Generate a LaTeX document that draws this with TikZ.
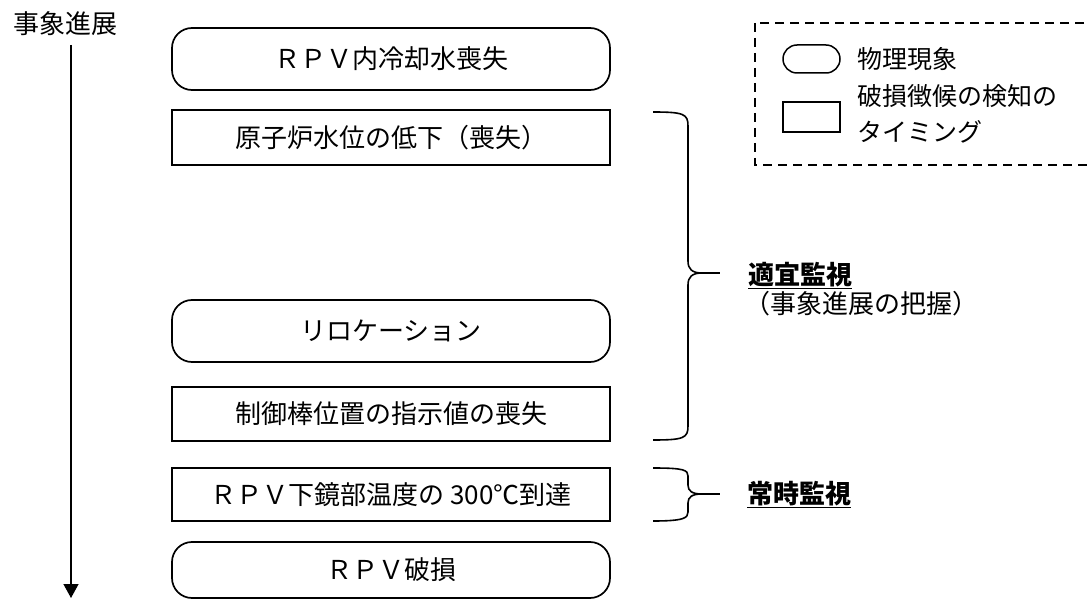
\documentclass[tikz,border=0pt]{standalone}
\usepackage{fontspec}
\setmainfont{Noto Sans CJK JP}
\usetikzlibrary{arrows.meta}

\begin{document}
\begin{tikzpicture}[x=1pt, y=-1pt, >={Triangle[length=14pt,width=15pt]},
    every node/.style={inner sep=0pt, font=\fontsize{26pt}{30pt}\selectfont},
    event/.style={draw, line width=1.7pt, rounded corners=20pt, minimum width=438pt, minimum height=62pt},
    sign/.style={draw, line width=1.7pt, minimum width=438pt, minimum height=54pt},
    bracket/.style={line width=1.6pt},
    key/.style={anchor=west, align=left, font=\fontsize{25pt}{36pt}\selectfont}]
    \useasboundingbox (0,0) rectangle (1088,599);

    \node (prog) at (65,24) {事象進展};
    \coordinate (start) at (71,45);
    \coordinate (end) at (71,598);
    \draw[->, line width=1.4pt] (start) -- (end);

    \node[event] (loss) at (391,59) {ＲＰＶ内冷却水喪失};
    \node[sign, minimum height=55pt] (level) at (391,137.5) {原子炉水位の低下（喪失）};
    \node[event] (reloc) at (391,331) {リロケーション};
    \node[sign] (rod) at (391,414) {制御棒位置の指示値の喪失};
    \node[sign, minimum height=53pt] (temp) at (391,494.5) {ＲＰＶ下鏡部温度の 300℃到達};
    \node[event, minimum height=56pt] (breach) at (391,570) {ＲＰＶ破損};

    % braces
    \draw[bracket] (653,112) .. controls (684,112) and (688,114) .. (688,126) -- (688,261)
        .. controls (688,269) and (692,273) .. (702,273) .. controls (692,273) and (688,277) .. (688,285)
        -- (688,426) .. controls (688,438) and (684,440) .. (653,440);
    \draw[bracket] (702,273) -- (720,273);
    \draw[bracket] (653,468) .. controls (684,468) and (688,470) .. (688,476) -- (688,485)
        .. controls (688,491) and (692,494) .. (702,494) .. controls (692,494) and (688,497) .. (688,503)
        -- (688,512) .. controls (688,518) and (684,521) .. (653,521);
    \draw[bracket] (702,494) -- (720,494);

    \node[anchor=base west, font=\bfseries\fontsize{26pt}{30pt}\selectfont] (timely) at (748,284) {\underline{適宜監視}};
    \node[anchor=base west] (grasp) at (744,313) {（事象進展の把握）};
    \node[anchor=base west, font=\bfseries\fontsize{26pt}{30pt}\selectfont] (always) at (747,503) {\underline{常時監視}};

    % legend
    \draw[line width=1.3pt, dash pattern=on 9pt off 6pt] (755,23) rectangle (1100,165);
    \node[draw, line width=1.5pt, rounded corners=14pt, minimum width=57pt, minimum height=28pt] (physbox) at (811.5,59) {};
    \node[key] (physkey) at (857,59) {物理現象};
    \node[draw, line width=1.5pt, minimum width=57pt, minimum height=30pt] (signbox) at (811.5,117) {};
    \node[key] (signkey) at (857,114) {破損徴候の検知の\\タイミング};
\end{tikzpicture}
\end{document}
